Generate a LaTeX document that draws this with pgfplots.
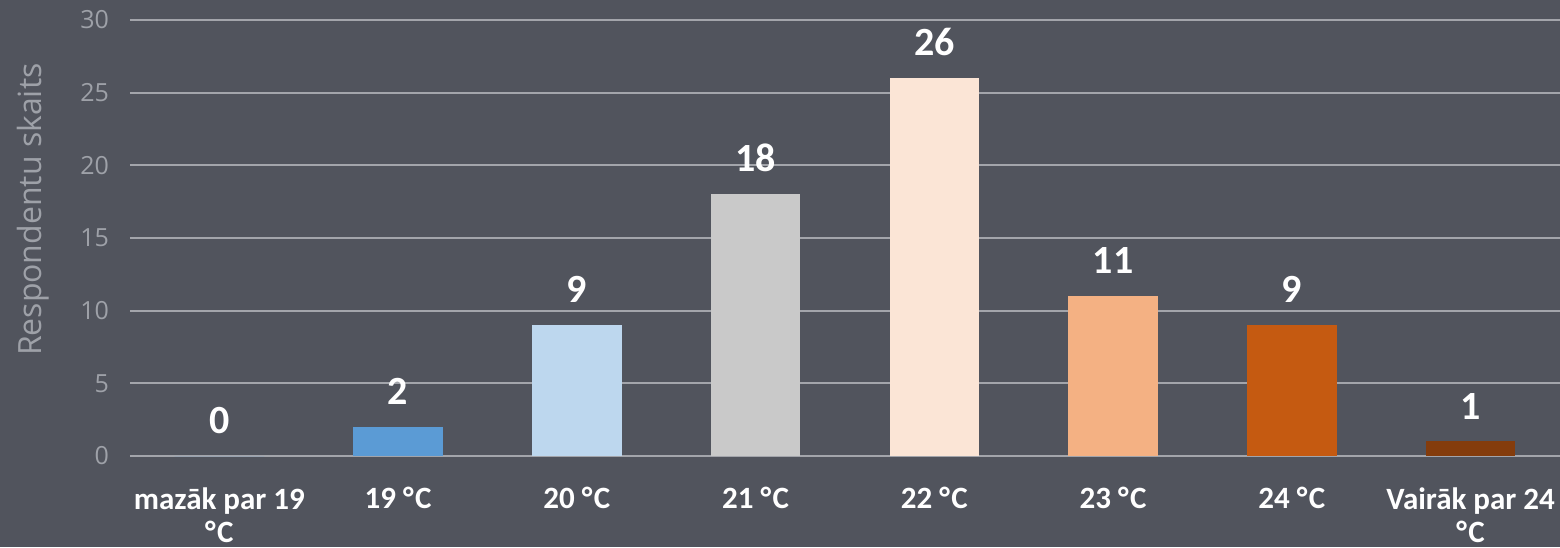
\documentclass[border=0pt]{standalone}
\usepackage{pgfplots}
\pgfplotsset{compat=1.18}
\usepackage{fontspec}
\setmainfont{Open Sans}
\newfontfamily\lblfont{Carlito}

\definecolor{bgc}{HTML}{51545D}
\definecolor{gridc}{HTML}{A3A5AB}
\definecolor{tickc}{HTML}{9EA1A8}
\definecolor{c1}{HTML}{5B9BD5}
\definecolor{c2}{HTML}{BDD7EE}
\definecolor{c3}{HTML}{C9C9C9}
\definecolor{c4}{HTML}{FBE5D6}
\definecolor{c5}{HTML}{F4B183}
\definecolor{c6}{HTML}{C55A11}
\definecolor{c7}{HTML}{843C0C}

\newcommand{\dg}{°\kern0.8pt C}

\begin{document}
\begin{tikzpicture}
% background, also fixes the page size
\path[use as bounding box, fill=bgc] (-65pt,-45.5pt) rectangle (715pt,228pt);

\begin{axis}[
  at={(0,0)}, anchor=south west,
  scale only axis,
  width=715pt, height=218pt,
  ybar, bar width=0.5,
  xmin=-0.5, xmax=7.5,
  ymin=0, ymax=30,
  xtick={0,...,7},
  xticklabels={{mazāk par 19\\\dg},{19 \dg},{20 \dg},{21 \dg},{22 \dg},{23 \dg},{24 \dg},{Vairāk par 24\\\dg}},
  ytick={0,5,...,30},
  /pgf/number format/assume math mode=true,
  axis line style={draw=none},
  major tick length=0pt,
  ymajorgrids=true,
  grid style={color=gridc, line width=1pt},
  xticklabel style={font=\lblfont\fontsize{15.5}{16.5}\selectfont\bfseries, color=white,
    align=center, inner sep=0pt, yshift=-15.5pt},
  yticklabel style={font=\fontsize{12.5}{15}\selectfont, color=tickc, xshift=-7pt},
  ylabel={Respondentu skaits},
  ylabel style={font=\fontsize{16}{19}\selectfont, color=tickc,
    at={(rel axis cs:0,0.565)}, anchor=center, yshift=48.5pt},
  nodes near coords,
  every node near coord/.append style={font=\lblfont\fontsize{20}{24}\selectfont\bfseries,
    color=white, anchor=south, inner sep=0pt, yshift=11pt},
]
\addplot[fill=c1, draw=none, bar shift=0pt] coordinates {(0,0)};
\addplot[fill=c1, draw=none, bar shift=0pt] coordinates {(1,2)};
\addplot[fill=c2, draw=none, bar shift=0pt] coordinates {(2,9)};
\addplot[fill=c3, draw=none, bar shift=0pt] coordinates {(3,18)};
\addplot[fill=c4, draw=none, bar shift=0pt] coordinates {(4,26)};
\addplot[fill=c5, draw=none, bar shift=0pt] coordinates {(5,11)};
\addplot[fill=c6, draw=none, bar shift=0pt] coordinates {(6,9)};
\addplot[fill=c7, draw=none, bar shift=0pt] coordinates {(7,1)};
\end{axis}
\end{tikzpicture}
\end{document}
